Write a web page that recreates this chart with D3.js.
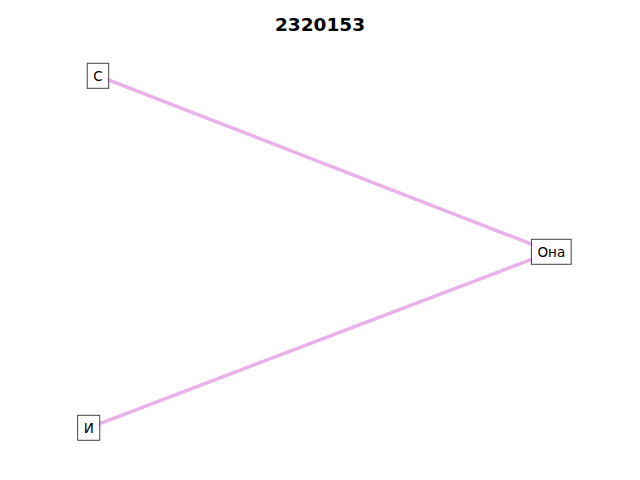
<!DOCTYPE html>
<html>
<head>
<meta charset="utf-8">
<script src="https://cdn.jsdelivr.net/npm/d3@7"></script>
<style>
  body { margin: 0; background: #fff; }
  text { font-family: "DejaVu Sans", sans-serif; }
</style>
</head>
<body>
<div id="chart"></div>
<script>
// graph data
var title = "2320153";
var nodeNames = ["С", "Она", "И"];
var nodeX = [0.02, 1, 0];
var nodeY = [1, 0.5, 0];
var edgeSource = ["С", "И"];
var edgeTarget = ["Она", "Она"];

var dim = { width: 640, height: 480 };

var svg = d3
  .select("#chart")
  .append("svg")
  .attr("width", dim.width)
  .attr("height", dim.height);

var x = d3.scaleLinear().domain([0, 1]).range([88.7, 551.3]);
var y = d3.scaleLinear().domain([0, 1]).range([427.8, 75.8]);

var nodes = nodeNames.map((name, i) => ({ name: name, x: nodeX[i], y: nodeY[i] }));
var byName = new Map(nodes.map((d) => [d.name, d]));
var links = edgeSource.map((s, i) => ({ source: byName.get(s), target: byName.get(edgeTarget[i]) }));

svg
  .append("text")
  .attr("x", dim.width / 2)
  .attr("y", 30.5)
  .attr("text-anchor", "middle")
  .attr("font-size", 18.5)
  .attr("font-weight", "bold")
  .text(title);

svg
  .selectAll("line.edge")
  .data(links)
  .join("line")
  .attr("class", "edge")
  .attr("x1", (d) => x(d.source.x))
  .attr("y1", (d) => y(d.source.y))
  .attr("x2", (d) => x(d.target.x))
  .attr("y2", (d) => y(d.target.y))
  .attr("stroke", "#e9b0ea")
  .attr("stroke-width", 3.5)
  .attr("stroke-linecap", "butt");

var g = svg
  .selectAll("g.node")
  .data(nodes)
  .join("g")
  .attr("class", "node")
  .attr("transform", (d) => `translate(${x(d.x)},${y(d.y)})`);

var rects = g.append("rect");

var labels = g
  .append("text")
  .attr("text-anchor", "middle")
  .attr("dy", "0.36em")
  .attr("font-size", 13.5)
  .attr("fill", "#000")
  .text((d) => d.name);

labels.each(function (d) {
  d.w = this.getComputedTextLength();
});

rects
  .attr("x", (d) => -(d.w / 2 + 6))
  .attr("y", -12.5)
  .attr("width", (d) => d.w + 12)
  .attr("height", 25)
  .attr("fill", "#fff")
  .attr("fill-opacity", 0.85)
  .attr("stroke", "#444")
  .attr("stroke-width", 1);
</script>
</body>
</html>
